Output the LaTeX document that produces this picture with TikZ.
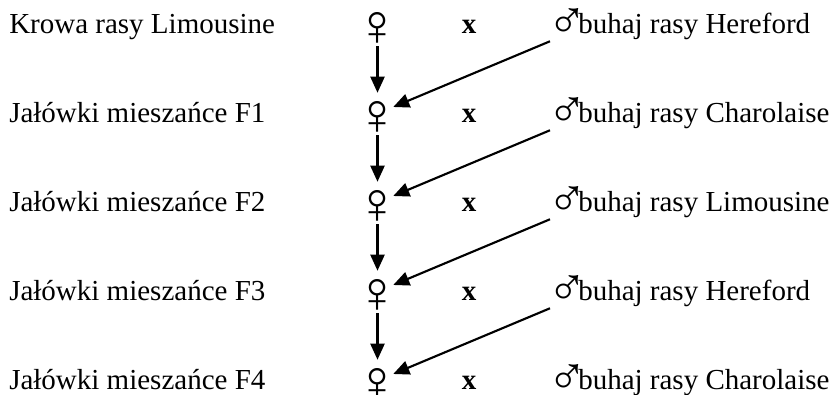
\documentclass[tikz,border=0pt]{standalone}
\usepackage{fontspec}
\setmainfont{Liberation Serif}
\usetikzlibrary{arrows.meta,positioning}

\begin{document}
\begin{tikzpicture}[
  x=0.75pt, y=-0.75pt,
  every node/.style={font=\fontsize{21.75}{26}\selectfont, inner sep=0pt}
]
  % Styles
  \tikzstyle{lbl} = [anchor=base west]
  \tikzstyle{fem} = [anchor=base, font=\fontsize{44}{48}\selectfont, text height=21.75pt, text depth=9.75pt, minimum width=23.25pt]
  \tikzstyle{times} = [anchor=base, font=\fontsize{21.75}{26}\selectfont\bfseries]
  \tikzstyle{male} = [anchor=base west, font=\fontsize{40}{44}\selectfont, text depth=6pt]
  \tikzstyle{line} = [line width=1.6pt, -{Triangle[length=12pt, width=10.5pt]}]

  \useasboundingbox (0,0) rectangle (836,394);

  % Cows (left column)
  \node[lbl] (cow1) at (9,33)  {Krowa rasy Limousine};
  \node[lbl] (cow2) at (9,122) {Jałówki mieszańce F1};
  \node[lbl] (cow3) at (9,211) {Jałówki mieszańce F2};
  \node[lbl] (cow4) at (9,300) {Jałówki mieszańce F3};
  \node[lbl] (cow5) at (9,389) {Jałówki mieszańce F4};

  % Female signs
  \node[fem] (f1) at (377.5,33)  {\makebox[0pt]{\raisebox{-9pt}{♀}}};
  \node[fem] (f2) at (377.5,122) {\makebox[0pt]{\raisebox{-9pt}{♀}}};
  \node[fem] (f3) at (377.5,211) {\makebox[0pt]{\raisebox{-9pt}{♀}}};
  \node[fem] (f4) at (377.5,300) {\makebox[0pt]{\raisebox{-9pt}{♀}}};
  \node[fem] (f5) at (377.5,389) {\makebox[0pt]{\raisebox{-9pt}{♀}}};

  % Crossing marks
  \node[times] (x1) at (469,33)  {x};
  \node[times] (x2) at (469,122) {x};
  \node[times] (x3) at (469,211) {x};
  \node[times] (x4) at (469,300) {x};
  \node[times] (x5) at (469,389) {x};

  % Bulls (right column)
  \node[male] (m1) at (547,33)  {\raisebox{-3.75pt}{♂}};
  \node[male] (m2) at (547,122) {\raisebox{-3.75pt}{♂}};
  \node[male] (m3) at (547,211) {\raisebox{-3.75pt}{♂}};
  \node[male] (m4) at (547,300) {\raisebox{-3.75pt}{♂}};
  \node[male] (m5) at (547,389) {\raisebox{-3.75pt}{♂}};
  \node[lbl] (bull1) at (578,33)  {buhaj rasy Hereford};
  \node[lbl] (bull2) at (578,122) {buhaj rasy Charolaise};
  \node[lbl] (bull3) at (578,211) {buhaj rasy Limousine};
  \node[lbl] (bull4) at (578,300) {buhaj rasy Hereford};
  \node[lbl] (bull5) at (578,389) {buhaj rasy Charolaise};

  % Generation arrows
  \draw[line] (f1) -- (f2);
  \draw[line] (f2) -- (f3);
  \draw[line] (f3) -- (f4);
  \draw[line] (f4) -- (f5);

  % Bull arrows
  \draw[line] ([xshift=2.25pt]m1.south west) -- (f2.24);
  \draw[line] ([xshift=2.25pt]m2.south west) -- (f3.24);
  \draw[line] ([xshift=2.25pt]m3.south west) -- (f4.24);
  \draw[line] ([xshift=2.25pt]m4.south west) -- (f5.24);
\end{tikzpicture}
\end{document}
